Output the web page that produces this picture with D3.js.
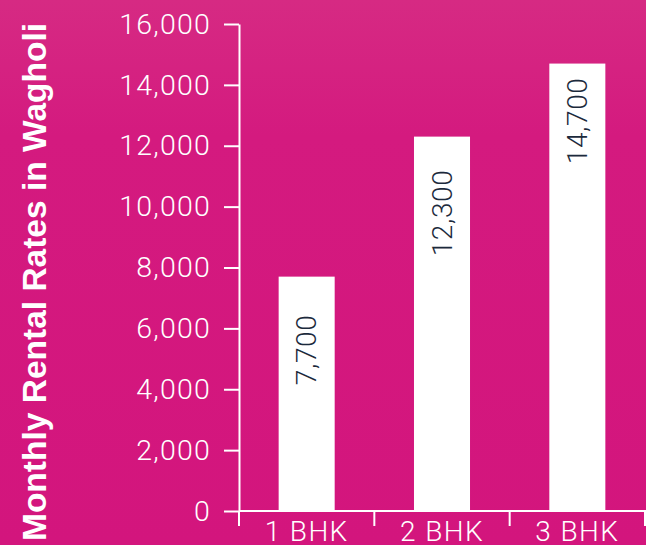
<!DOCTYPE html>
<html>
<head>
<meta charset="utf-8">
<script src="https://cdn.jsdelivr.net/npm/d3@7"></script>
<style>
  html, body { margin: 0; padding: 0; background: #d3157d; }
  svg { display: block; }
</style>
</head>
<body>
<svg id="chart" width="646" height="545"></svg>
<script>
// Monthly rental rates in Wagholi by flat size
const categories = ["1 BHK", "2 BHK", "3 BHK"];
const rents = [7700, 12300, 14700];
const yTickValues = [0, 2000, 4000, 6000, 8000, 10000, 12000, 14000, 16000];
const axisTitle = "Monthly Rental Rates in Wagholi";

const W = 646, H = 545;
const plot = { left: 239, right: 645, top: 24, bottom: 511 };

const svg = d3.select("#chart");

// backdrop: magenta with a slightly paler band near the top
const defs = svg.append("defs");
const grad = defs.append("linearGradient")
  .attr("id", "bg").attr("x1", 0).attr("y1", 0).attr("x2", 0).attr("y2", 1);
grad.append("stop").attr("offset", "0%").attr("stop-color", "#d62a83");
grad.append("stop").attr("offset", "25%").attr("stop-color", "#d41a7f");
grad.append("stop").attr("offset", "100%").attr("stop-color", "#d3157d");
svg.append("rect").attr("width", W).attr("height", H).attr("fill", "url(#bg)");

const x = d3.scaleBand()
  .domain(categories)
  .range([plot.left, plot.right])
  .paddingInner(0.586)
  .paddingOuter(0.293);

const y = d3.scaleLinear()
  .domain([0, 16000])
  .range([plot.bottom, plot.top]);

const lightFont = "Roboto, 'Helvetica Neue', Arial, sans-serif";

// bars
svg.append("g")
  .selectAll("rect")
  .data(rents)
  .join("rect")
  .attr("x", (d, i) => x(categories[i]))
  .attr("y", d => y(d))
  .attr("width", x.bandwidth())
  .attr("height", d => y(0) - y(d))
  .attr("fill", "#ffffff");

// value labels inside the bars, reading upward
const labelDrop = [38, 33, 14];
svg.append("g")
  .selectAll("text")
  .data(rents)
  .join("text")
  .attr("transform", (d, i) =>
    `translate(${x(categories[i]) + x.bandwidth() / 2},${y(d) + labelDrop[i]}) rotate(-90)`)
  .attr("text-anchor", "end")
  .attr("dominant-baseline", "central")
  .style("font-family", lightFont)
  .style("font-weight", 300)
  .style("font-size", "28px")
  .style("letter-spacing", "0.6px")
  .attr("fill", "#1c2a3c")
  .text(d => d3.format(",")(d));

// y axis
const yAxis = svg.append("g")
  .attr("transform", `translate(${plot.left},0)`)
  .call(d3.axisLeft(y)
    .tickValues(yTickValues)
    .tickFormat(d3.format(","))
    .tickSize(15)
    .tickSizeOuter(0)
    .tickPadding(13));
yAxis.selectAll("path, line").attr("stroke", "#ffffff").attr("stroke-width", 2);
yAxis.selectAll("text")
  .attr("fill", "#ffffff")
  .style("font-family", lightFont)
  .style("font-weight", 300)
  .style("font-size", "28.5px")
  .style("letter-spacing", "1.2px");

// x axis with ticks on the category boundaries
const xAxis = svg.append("g")
  .attr("transform", `translate(0,${plot.bottom})`)
  .call(d3.axisBottom(x).tickSize(0).tickSizeOuter(0).tickPadding(10));
xAxis.select(".domain").attr("stroke", "#ffffff").attr("stroke-width", 2)
  .attr("d", `M${plot.left},0H${W}`);
xAxis.selectAll("text")
  .attr("fill", "#ffffff")
  .style("font-family", lightFont)
  .style("font-weight", 300)
  .style("font-size", "28px")
  .style("letter-spacing", "1.4px");

const step = x.step();
const boundaries = d3.range(categories.length + 1).map(i => plot.left + i * step);
xAxis.append("g")
  .selectAll("line")
  .data(boundaries)
  .join("line")
  .attr("x1", d => d).attr("x2", d => d)
  .attr("y1", 0).attr("y2", 15)
  .attr("stroke", "#ffffff").attr("stroke-width", 2);

// axis title
svg.append("text")
  .attr("transform", "translate(46,541) rotate(-90)")
  .attr("text-anchor", "start")
  .style("font-family", "'Liberation Sans', Arial, sans-serif")
  .style("font-weight", 700)
  .style("font-size", "33.5px")
  .attr("fill", "#ffffff")
  .text(axisTitle);
</script>
</body>
</html>
